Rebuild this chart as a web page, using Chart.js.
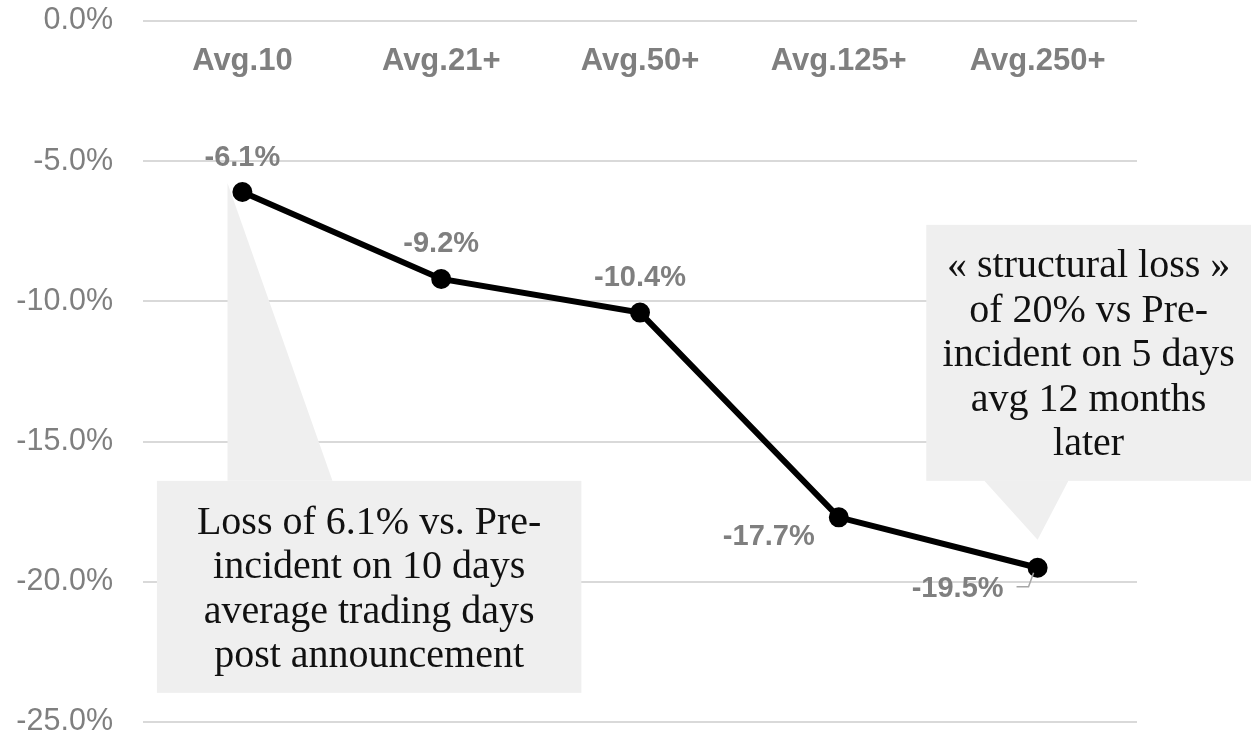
<!DOCTYPE html>
<html>
<head>
<meta charset="utf-8">
<script src="https://cdn.jsdelivr.net/npm/chart.js@4/dist/chart.umd.min.js"></script>
<style>
  body { margin: 0; background: #fff; }
</style>
</head>
<body>
<canvas id="lossChart" width="1251" height="738"></canvas>
<script>
const categories = ['Avg.10', 'Avg.21+', 'Avg.50+', 'Avg.125+', 'Avg.250+'];
const values = [-6.1, -9.2, -10.4, -17.7, -19.5];
const yTicks = [0, -5, -10, -15, -20, -25];

const calloutShort = ['Loss of 6.1% vs. Pre-', 'incident on 10 days', 'average trading days', 'post announcement'];
const calloutLong = ['« structural loss »', 'of 20% vs Pre-', 'incident on 5 days', 'avg 12 months', 'later'];

const GREY = '#7f7f7f';
const pct = v => v.toFixed(1) + '%';

// grey speech boxes, placed in category index / value units
const callouts = [
    { lines: calloutShort, x0: -0.43, x1: 1.705, y0: -16.4, y1: -23.96,
      wedge: [[-0.075, -16.4], [0.453, -16.4], [-0.075, -5.78]] },
    { lines: calloutLong, x0: 3.44, x1: 5.1, y0: -7.27, y1: -16.4,
      wedge: [[3.732, -16.4], [4.155, -16.4], [4.0, -18.5]] }
];

const calloutPlugin = {
    id: 'callouts',
    beforeDatasetsDraw(chart) {
        const {ctx, scales: {x, y}} = chart;
        ctx.save();
        ctx.fillStyle = '#efefef';
        callouts.forEach(c => {
            const left = x.getPixelForValue(c.x0), right = x.getPixelForValue(c.x1);
            const top = y.getPixelForValue(c.y0), bottom = y.getPixelForValue(c.y1);
            ctx.fillRect(left, top, right - left, bottom - top);
            ctx.beginPath();
            c.wedge.forEach(([i, v], k) => {
                const px = x.getPixelForValue(i), py = y.getPixelForValue(v);
                if (k === 0) ctx.moveTo(px, py); else ctx.lineTo(px, py);
            });
            ctx.closePath();
            ctx.fill();
        });
        ctx.fillStyle = '#111';
        ctx.font = '40px "Liberation Serif", serif';
        ctx.textAlign = 'center';
        ctx.textBaseline = 'middle';
        const lh = 44.5;
        callouts.forEach(c => {
            const left = x.getPixelForValue(c.x0);
            const right = Math.min(x.getPixelForValue(c.x1), chart.width);
            const cx = (left + right) / 2;
            const cy = (y.getPixelForValue(c.y0) + y.getPixelForValue(c.y1)) / 2 + 3;
            const start = cy - (c.lines.length - 1) * lh / 2;
            c.lines.forEach((t, k) => ctx.fillText(t, cx, start + k * lh));
        });
        ctx.restore();
    }
};

// value labels next to each point
const valueLabels = {
    id: 'valueLabels',
    afterDatasetsDraw(chart, args, opts) {
        const ctx = chart.ctx;
        const pts = chart.getDatasetMeta(0).data;
        ctx.save();
        ctx.font = opts.font;
        ctx.fillStyle = GREY;
        ctx.textAlign = 'center';
        ctx.textBaseline = 'middle';
        pts.forEach((pt, i) => {
            const [dx, dy] = opts.offsets[i];
            ctx.fillText(pct(values[i]), pt.x + dx, pt.y + dy);
        });
        // small leader from the last label back to its point
        const last = pts.length - 1;
        const lp = pts[last];
        const [dx, dy] = opts.offsets[last];
        const edge = lp.x + dx + ctx.measureText(pct(values[last])).width / 2;
        ctx.strokeStyle = '#a6a6a6';
        ctx.lineWidth = 1.5;
        ctx.beginPath();
        ctx.moveTo(edge + 13, lp.y + dy - 2);
        ctx.lineTo(edge + 25, lp.y + dy - 2);
        ctx.lineTo(lp.x - 4, lp.y + 5);
        ctx.stroke();
        ctx.restore();
    }
};

new Chart(document.getElementById('lossChart'), {
    type: 'line',
    data: {
        labels: categories,
        datasets: [{
            data: values,
            borderColor: '#000',
            backgroundColor: '#000',
            borderWidth: 6,
            pointRadius: 7,
            pointHoverRadius: 7,
            tension: 0
        }]
    },
    options: {
        responsive: false,
        animation: false,
        events: [],
        layout: { padding: { top: 21, right: 114, bottom: 16, left: 0 } },
        plugins: {
            legend: { display: false },
            tooltip: { enabled: false },
            valueLabels: {
                font: 'bold 29px "Liberation Sans", Arial, sans-serif',
                offsets: [[0, -34], [0, -35], [0, -35], [-70, 20], [-80, 21]]
            }
        },
        scales: {
            x: {
                position: { y: 0 },
                offset: true,
                grid: { display: false, drawTicks: false },
                border: { display: false },
                ticks: {
                    color: GREY,
                    padding: 22,
                    font: { family: '"Liberation Sans", Arial, sans-serif', size: 31, weight: 'bold' }
                }
            },
            y: {
                min: -25,
                max: 0,
                afterFit: s => {
                    s.width = 143;
                    s.paddingTop = 0;
                    s.paddingBottom = 0;
                },
                afterBuildTicks: s => { s.ticks = yTicks.map(v => ({ value: v })); },
                grid: { color: '#d9d9d9', lineWidth: 2, drawTicks: false },
                border: { display: false },
                ticks: {
                    color: GREY,
                    padding: 30,
                    font: { family: '"Liberation Sans", Arial, sans-serif', size: 30.5 },
                    callback: v => pct(v)
                }
            }
        }
    },
    plugins: [calloutPlugin, valueLabels]
});
</script>
</body>
</html>
